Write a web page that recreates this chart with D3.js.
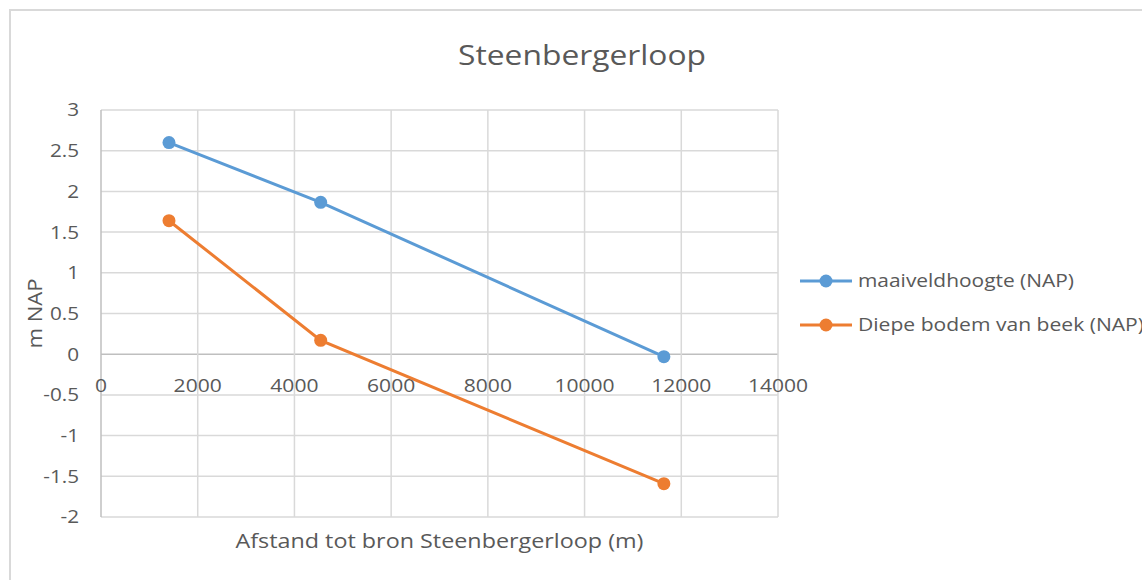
<!DOCTYPE html>
<html>
<head>
<meta charset="utf-8">
<script src="https://cdn.jsdelivr.net/npm/d3@7"></script>
<style>
  html, body { margin: 0; padding: 0; background: #ffffff; }
  svg { display: block; }
  text { font-family: "Open Sans", sans-serif; fill: #595959; }
</style>
</head>
<body>
<svg id="chart" width="1142" height="580"></svg>
<script>
// ---- data ----
const distances = [1406, 4543, 11640];
const seriesNames = ["maaiveldhoogte (NAP)", "Diepe bodem van beek (NAP)"];
const maaiveld = [2.60, 1.866, -0.03];
const diepeBodem = [1.64, 0.17, -1.59];
const xTicks = [0, 2000, 4000, 6000, 8000, 10000, 12000, 14000];
const yTicks = [-2, -1.5, -1, -0.5, 0, 0.5, 1, 1.5, 2, 2.5, 3];
const colors = ["#5B9BD5", "#ED7D31"];
const chartTitle = "Steenbergerloop";
const xTitle = "Afstand tot bron Steenbergerloop (m)";
const yTitle = "m NAP";

const svg = d3.select("#chart");

// frame
svg.append("rect").attr("x", 10).attr("y", 10).attr("width", 1200).attr("height", 640)
  .attr("fill", "#ffffff").attr("stroke", "#d9d9d9").attr("stroke-width", 2);

const plot = { left: 101, right: 778, top: 110, bottom: 517 };
const x = d3.scaleLinear().domain([0, 14000]).range([plot.left, plot.right]);
const y = d3.scaleLinear().domain([-2, 3]).range([plot.bottom, plot.top]);

// stretch text horizontally (reference is slightly wide)
function widen(sel, f) {
  sel.each(function () {
    const w = this.getComputedTextLength();
    d3.select(this).attr("textLength", w * f).attr("lengthAdjust", "spacingAndGlyphs");
  });
}

// horizontal gridlines
svg.append("g").selectAll("line").data(yTicks).join("line")
  .attr("x1", plot.left).attr("x2", plot.right)
  .attr("y1", d => y(d)).attr("y2", d => y(d))
  .attr("stroke", d => d === 0 ? "#bfbfbf" : "#d9d9d9").attr("stroke-width", 1.5);
// vertical gridlines
svg.append("g").selectAll("line").data(xTicks).join("line")
  .attr("x1", d => x(d)).attr("x2", d => x(d))
  .attr("y1", plot.top).attr("y2", plot.bottom)
  .attr("stroke", d => d === 0 ? "#bfbfbf" : "#d9d9d9").attr("stroke-width", 1.5);

// y tick labels
svg.append("g").selectAll("text").data(yTicks).join("text")
  .attr("x", 79).attr("y", d => y(d)).attr("dy", "0.36em")
  .attr("text-anchor", "end").style("font-size", "18px")
  .text(d => String(d))
  .call(widen, 1.15);

// x tick labels (positioned at y = 0 axis)
svg.append("g").selectAll("text").data(xTicks).join("text")
  .attr("x", d => x(d)).attr("y", y(0) + 38)
  .attr("text-anchor", "middle").style("font-size", "18px")
  .text(d => String(d))
  .call(widen, 1.17);

// lines & markers
const line = d3.line().x(d => x(d[0])).y(d => y(d[1]));
[maaiveld, diepeBodem].forEach((vals, i) => {
  const pts = distances.map((d, j) => [d, vals[j]]);
  svg.append("path").datum(pts).attr("d", line)
    .attr("fill", "none").attr("stroke", colors[i]).attr("stroke-width", 3)
    .attr("stroke-linecap", "round");
  svg.append("g").selectAll("circle").data(pts).join("circle")
    .attr("cx", d => x(d[0])).attr("cy", d => y(d[1])).attr("r", 6.5)
    .attr("fill", colors[i]);
});

// title
svg.append("text").attr("x", 582).attr("y", 65).attr("text-anchor", "middle")
  .style("font-size", "27px").attr("textLength", 248).attr("lengthAdjust", "spacingAndGlyphs")
  .text(chartTitle);

// axis titles
svg.append("text").attr("x", (plot.left + plot.right) / 2).attr("y", 548)
  .attr("text-anchor", "middle").style("font-size", "20px")
  .attr("textLength", 408).attr("lengthAdjust", "spacingAndGlyphs").text(xTitle);
svg.append("text").attr("transform", `translate(42, ${(plot.top + plot.bottom) / 2}) rotate(-90)`)
  .attr("text-anchor", "middle").style("font-size", "20px")
  .attr("textLength", 70).attr("lengthAdjust", "spacingAndGlyphs").text(yTitle);

// legend
const legendY = [281, 325];
const legendWidths = [216, 286];
seriesNames.forEach((name, i) => {
  const g = svg.append("g").attr("transform", `translate(0, ${legendY[i]})`);
  g.append("line").attr("x1", 800).attr("x2", 852).attr("y1", 0).attr("y2", 0)
    .attr("stroke", colors[i]).attr("stroke-width", 3);
  g.append("circle").attr("cx", 826).attr("cy", 0).attr("r", 6.5).attr("fill", colors[i]);
  g.append("text").attr("x", 858).attr("y", 0).attr("dy", "0.36em")
    .style("font-size", "18px").attr("textLength", legendWidths[i])
    .attr("lengthAdjust", "spacingAndGlyphs").text(name);
});
</script>
</body>
</html>
